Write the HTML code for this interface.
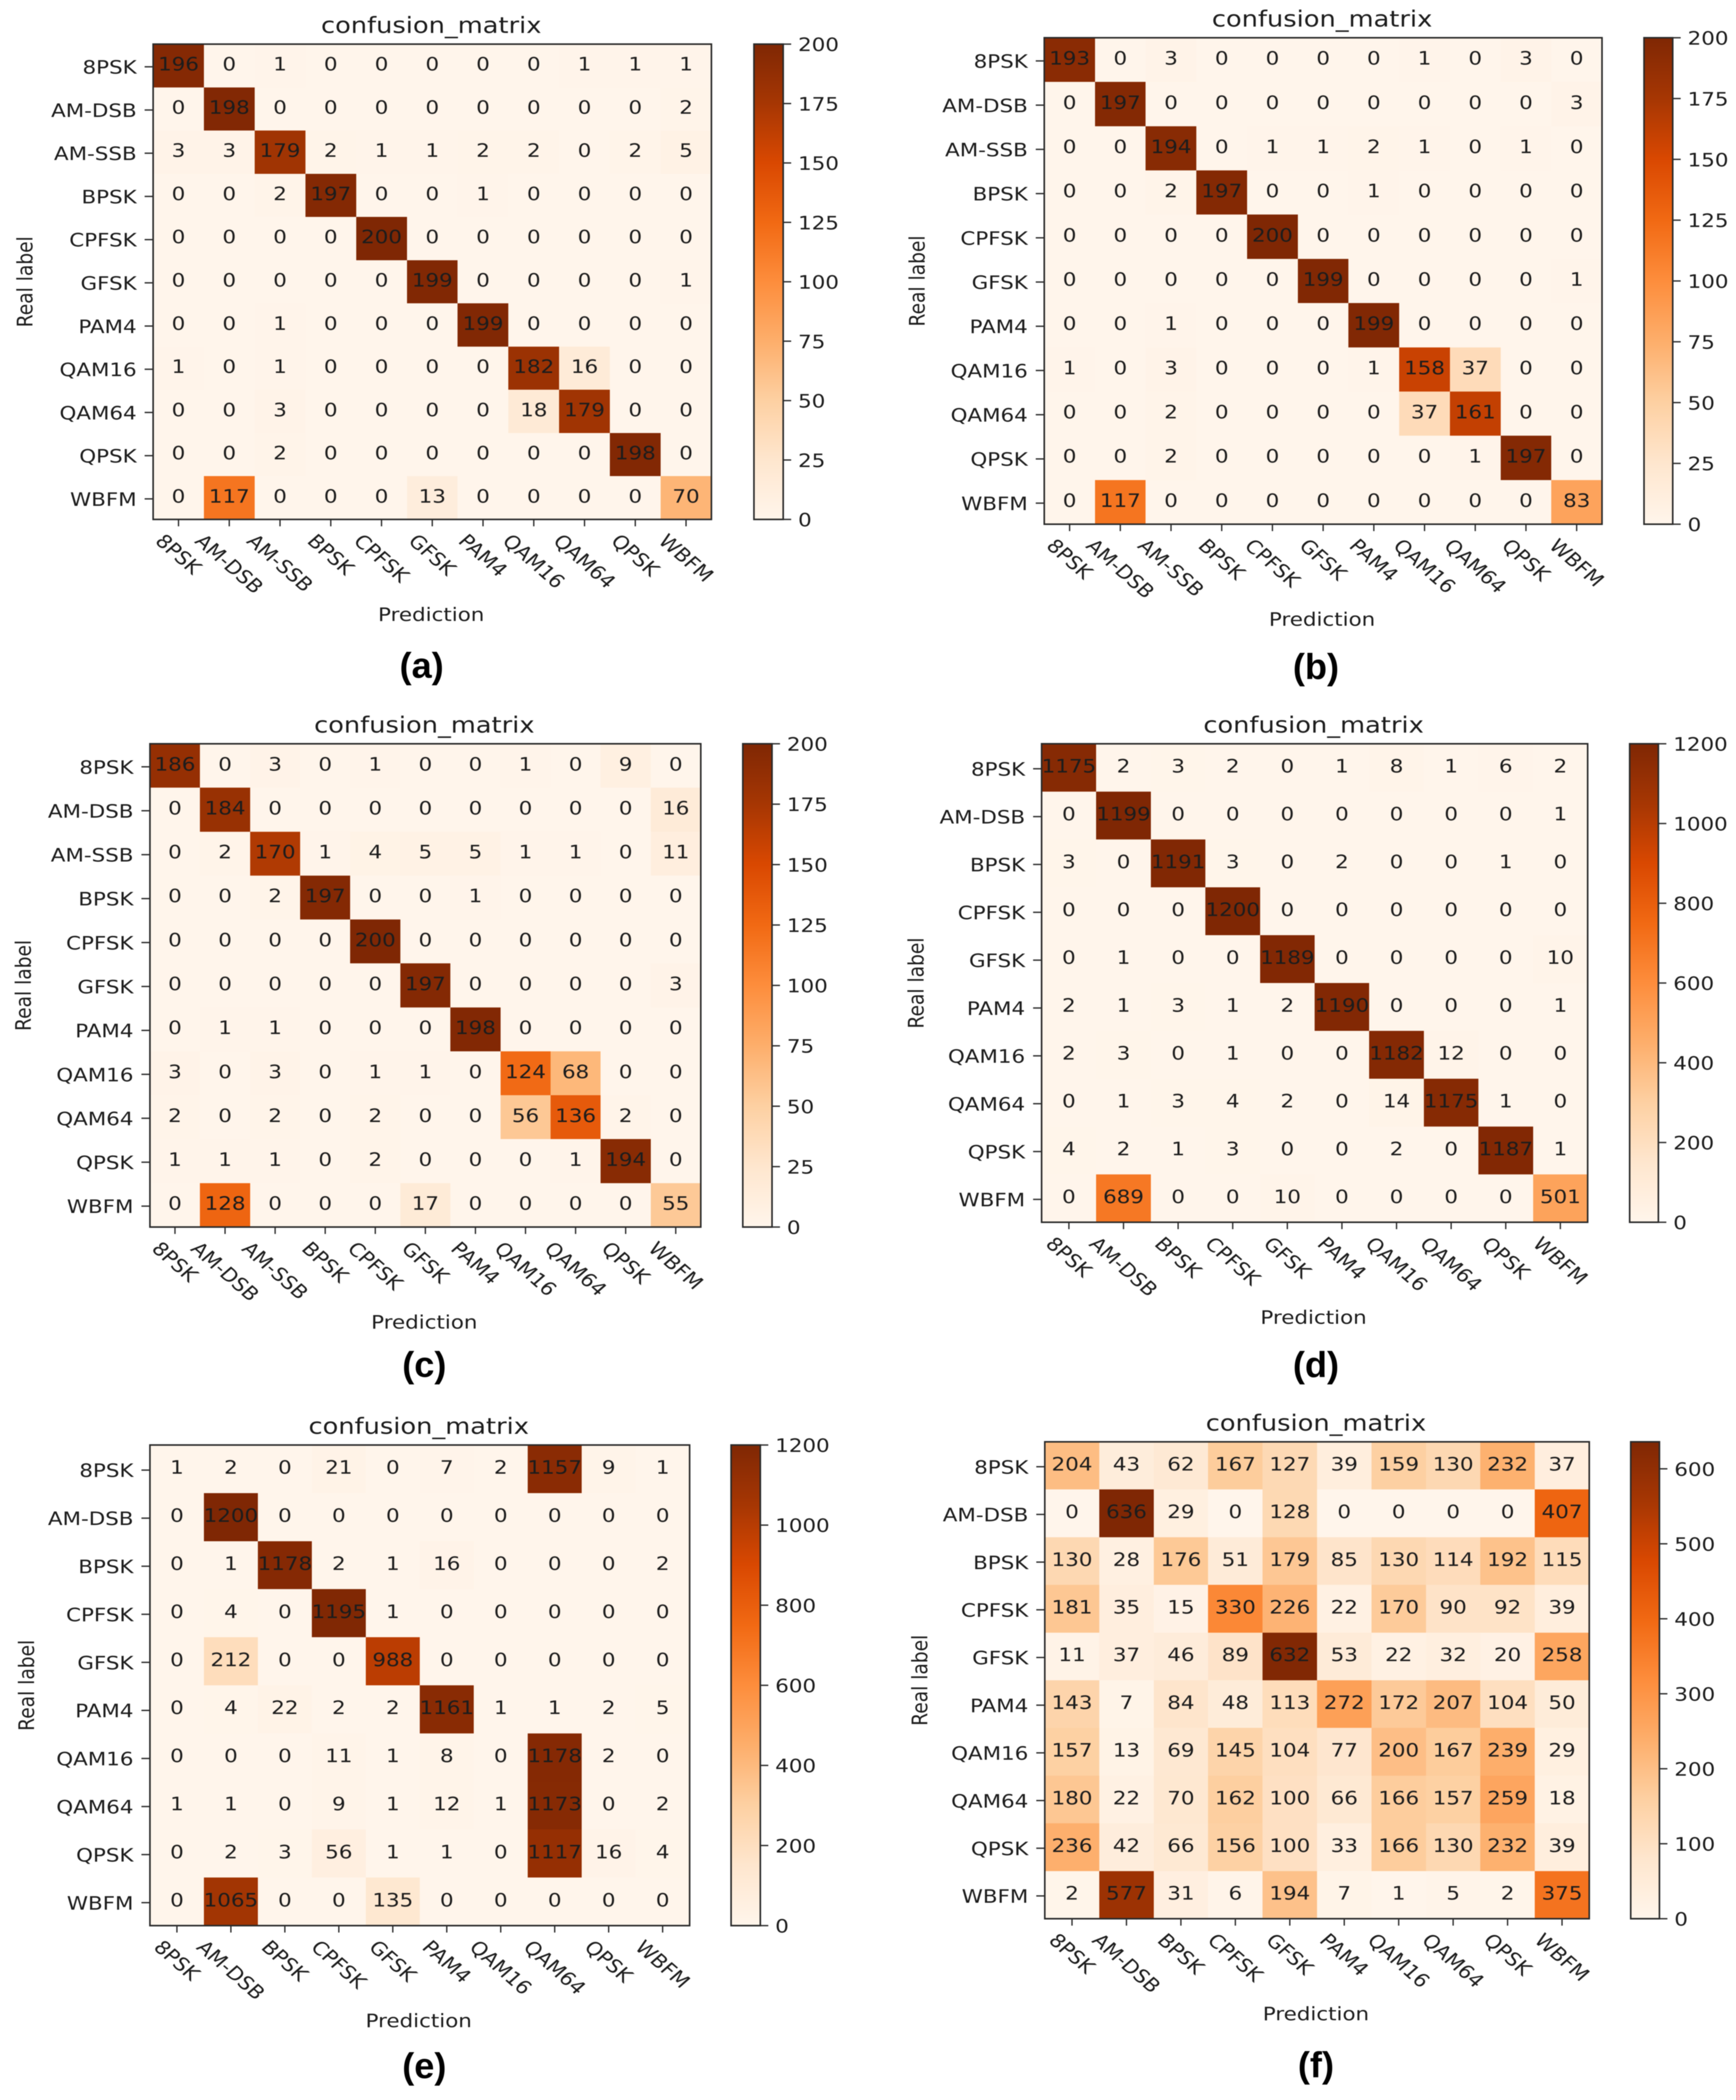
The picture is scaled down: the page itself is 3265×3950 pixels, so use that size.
<!DOCTYPE html>
<html lang="en">
<head>
<meta charset="utf-8">
<title>Confusion matrices</title>
<style>
html,body{margin:0;padding:0;background:#fff}
svg{display:block;filter:blur(.7px)}
text{font-family:"DejaVu Sans","Liberation Sans",sans-serif;fill:#1c1c1c}
.cap{font-family:"Liberation Sans",sans-serif;font-weight:700;fill:#000}
</style>
</head>
<body>
<svg id="figure" xmlns="http://www.w3.org/2000/svg" width="3265" height="3950" viewBox="0 0 3265 3950">
<defs>
<linearGradient id="oranges-gradient" x1="0" y1="1" x2="0" y2="0">
<stop offset="0" stop-color="#fff5eb"/><stop offset=".125" stop-color="#fee6ce"/><stop offset=".25" stop-color="#fdd0a2"/><stop offset=".375" stop-color="#fdae6b"/><stop offset=".5" stop-color="#fd8d3c"/><stop offset=".625" stop-color="#f16913"/><stop offset=".75" stop-color="#d94801"/><stop offset=".875" stop-color="#a63603"/><stop offset="1" stop-color="#7f2704"/>
</linearGradient>
</defs>
<rect width="3265" height="3950" fill="#fff"/>
</svg>
<script>
const categories11 = ["8PSK","AM-DSB","AM-SSB","BPSK","CPFSK","GFSK","PAM4","QAM16","QAM64","QPSK","WBFM"];
const categories10 = ["8PSK","AM-DSB","BPSK","CPFSK","GFSK","PAM4","QAM16","QAM64","QPSK","WBFM"];

const matrixA = [
[196,0,1,0,0,0,0,0,1,1,1],
[0,198,0,0,0,0,0,0,0,0,2],
[3,3,179,2,1,1,2,2,0,2,5],
[0,0,2,197,0,0,1,0,0,0,0],
[0,0,0,0,200,0,0,0,0,0,0],
[0,0,0,0,0,199,0,0,0,0,1],
[0,0,1,0,0,0,199,0,0,0,0],
[1,0,1,0,0,0,0,182,16,0,0],
[0,0,3,0,0,0,0,18,179,0,0],
[0,0,2,0,0,0,0,0,0,198,0],
[0,117,0,0,0,13,0,0,0,0,70]];
const matrixB = [
[193,0,3,0,0,0,0,1,0,3,0],
[0,197,0,0,0,0,0,0,0,0,3],
[0,0,194,0,1,1,2,1,0,1,0],
[0,0,2,197,0,0,1,0,0,0,0],
[0,0,0,0,200,0,0,0,0,0,0],
[0,0,0,0,0,199,0,0,0,0,1],
[0,0,1,0,0,0,199,0,0,0,0],
[1,0,3,0,0,0,1,158,37,0,0],
[0,0,2,0,0,0,0,37,161,0,0],
[0,0,2,0,0,0,0,0,1,197,0],
[0,117,0,0,0,0,0,0,0,0,83]];
const matrixC = [
[186,0,3,0,1,0,0,1,0,9,0],
[0,184,0,0,0,0,0,0,0,0,16],
[0,2,170,1,4,5,5,1,1,0,11],
[0,0,2,197,0,0,1,0,0,0,0],
[0,0,0,0,200,0,0,0,0,0,0],
[0,0,0,0,0,197,0,0,0,0,3],
[0,1,1,0,0,0,198,0,0,0,0],
[3,0,3,0,1,1,0,124,68,0,0],
[2,0,2,0,2,0,0,56,136,2,0],
[1,1,1,0,2,0,0,0,1,194,0],
[0,128,0,0,0,17,0,0,0,0,55]];
const matrixD = [
[1175,2,3,2,0,1,8,1,6,2],
[0,1199,0,0,0,0,0,0,0,1],
[3,0,1191,3,0,2,0,0,1,0],
[0,0,0,1200,0,0,0,0,0,0],
[0,1,0,0,1189,0,0,0,0,10],
[2,1,3,1,2,1190,0,0,0,1],
[2,3,0,1,0,0,1182,12,0,0],
[0,1,3,4,2,0,14,1175,1,0],
[4,2,1,3,0,0,2,0,1187,1],
[0,689,0,0,10,0,0,0,0,501]];
const matrixE = [
[1,2,0,21,0,7,2,1157,9,1],
[0,1200,0,0,0,0,0,0,0,0],
[0,1,1178,2,1,16,0,0,0,2],
[0,4,0,1195,1,0,0,0,0,0],
[0,212,0,0,988,0,0,0,0,0],
[0,4,22,2,2,1161,1,1,2,5],
[0,0,0,11,1,8,0,1178,2,0],
[1,1,0,9,1,12,1,1173,0,2],
[0,2,3,56,1,1,0,1117,16,4],
[0,1065,0,0,135,0,0,0,0,0]];
const matrixF = [
[204,43,62,167,127,39,159,130,232,37],
[0,636,29,0,128,0,0,0,0,407],
[130,28,176,51,179,85,130,114,192,115],
[181,35,15,330,226,22,170,90,92,39],
[11,37,46,89,632,53,22,32,20,258],
[143,7,84,48,113,272,172,207,104,50],
[157,13,69,145,104,77,200,167,239,29],
[180,22,70,162,100,66,166,157,259,18],
[236,42,66,156,100,33,166,130,232,39],
[2,577,31,6,194,7,1,5,2,375]];

const colorbarTicks200 = [0,25,50,75,100,125,150,175,200];
const colorbarTicks1200 = [0,200,400,600,800,1000,1200];
const colorbarTicks600 = [0,100,200,300,400,500,600];

const chartTitle = "confusion_matrix";
const xAxisTitle = "Prediction";
const yAxisTitle = "Real label";

const panelA = {id:"a",matrix:matrixA,labels:categories11,ticks:colorbarTicks200,vmax:200};
const panelB = {id:"b",matrix:matrixB,labels:categories11,ticks:colorbarTicks200,vmax:200};
const panelC = {id:"c",matrix:matrixC,labels:categories11,ticks:colorbarTicks200,vmax:200};
const panelD = {id:"d",matrix:matrixD,labels:categories10,ticks:colorbarTicks1200,vmax:1200};
const panelE = {id:"e",matrix:matrixE,labels:categories10,ticks:colorbarTicks1200,vmax:1200};
const panelF = {id:"f",matrix:matrixF,labels:categories10,ticks:colorbarTicks600,vmax:636};

const frameA = {L:288,R:1338,T:83,B:977,cL:1418,cR:1473,yt:47,capX:793,capY:1275};
const frameB = {L:1964,R:3013,T:71,B:986,cL:3092,cR:3146,yt:1725,capX:2475,capY:1277};
const frameC = {L:282,R:1318,T:1399,B:2308,cL:1397,cR:1452,yt:44,capX:798,capY:2590};
const frameD = {L:1959,R:2986,T:1399,B:2299,cL:3065,cR:3119,yt:1723,capX:2475,capY:2590};
const frameE = {L:282,R:1297,T:2718,B:3622,cL:1375,cR:1430,yt:50,capX:798,capY:3909};
const frameF = {L:1965,R:2989,T:2712,B:3609,cL:3067,cR:3121,yt:1730,capX:2475,capY:3907};

const SVGNS = "http://www.w3.org/2000/svg";
const FONT = 35, SX = 1.15, INK = "#2a2a2a";
const orangesStops = ["#fff5eb","#fee6ce","#fdd0a2","#fdae6b","#fd8d3c","#f16913","#d94801","#a63603","#7f2704"];

function hexToRgb(h){return [1,3,5].map(i=>parseInt(h.substr(i,2),16));}
function oranges(t){
  const p = Math.max(0,Math.min(1,t))*(orangesStops.length-1);
  const i = Math.min(Math.floor(p),orangesStops.length-2);
  const a = hexToRgb(orangesStops[i]), b = hexToRgb(orangesStops[i+1]), f = p-i;
  return "rgb("+a.map((v,k)=>Math.round(v+(b[k]-v)*f)).join(",")+")";
}
function make(tag,parent,attrs){
  const el = document.createElementNS(SVGNS,tag);
  for(const k in attrs){el.setAttribute(k,attrs[k]);}
  parent.appendChild(el);
  return el;
}
function label(parent,str,x,y,size,extra,anchor,cls,sx){
  const el = make("text",parent,{
    transform:"translate("+x+" "+y+") scale("+(sx||SX)+" 1)"+(extra||""),
    "font-size":size,
    "text-anchor":anchor||"middle"
  });
  if(cls){el.setAttribute("class",cls);}
  el.textContent = str;
  return el;
}

function drawPanel(panel,frame){
  const root = document.getElementById("figure");
  const n = panel.labels.length;
  const cw = (frame.R-frame.L)/n, ch = (frame.B-frame.T)/n;
  const xCell = i => frame.L+i*cw;
  const yCell = i => frame.T+i*ch;
  const xMid = i => xCell(i)+cw/2;
  const yMid = i => yCell(i)+ch/2;
  const yBar = v => frame.B-v/panel.vmax*(frame.B-frame.T);
  const cx = (frame.L+frame.R)/2, cy = (frame.T+frame.B)/2;

  const g = make("g",root,{});
  
  

  const title = label(g,chartTitle,cx-2,frame.T-21,42);
  
  

  panel.matrix.forEach((row,r)=>{
    row.forEach((v,c)=>{
      const cell = make("rect",g,{x:xCell(c),y:yCell(r),width:cw+.5,height:ch+.5,fill:oranges(v/panel.vmax),"shape-rendering":"crispEdges"});
      
      
    });
  });
  panel.matrix.forEach((row,r)=>{
    row.forEach((v,c)=>{
      const num = label(g,String(v),xMid(c),yMid(r)+9,FONT);
      
      
    });
  });

  const frameRect = make("rect",g,{x:frame.L,y:frame.T,width:frame.R-frame.L,height:frame.B-frame.T,fill:"none",stroke:INK,"stroke-width":3});
  
  

  panel.labels.forEach((name,i)=>{
    const ty = make("line",g,{x1:frame.L-16,x2:frame.L,y1:yMid(i)+2,y2:yMid(i)+2,stroke:INK,"stroke-width":2.5});
    
    
    const yl = label(g,name,frame.L-31,yMid(i)+15,FONT,"","end");
    
    

    const tx = make("line",g,{x1:xMid(i),x2:xMid(i),y1:frame.B,y2:frame.B+13,stroke:INK,"stroke-width":2.5});
    
    
    const xl = label(g,name,xMid(i),frame.B+28,FONT," rotate(45)");
    xl.setAttribute("dominant-baseline","central");
    
    
    const len = xl.getComputedTextLength();
    const yc = frame.B+26+(len+23)*0.707/2;
    xl.setAttribute("transform","translate("+xMid(i)+" "+yc+") scale("+SX+" 1) rotate(45)");
  });

  const xt = label(g,xAxisTitle,cx-2,frame.B+191,FONT);
  
  

  const yt = make("text",g,{transform:"translate("+frame.yt+" "+cy+") scale("+SX+" 1) rotate(-90)","font-size":FONT,"text-anchor":"middle","dominant-baseline":"central"});
  yt.textContent = yAxisTitle;
  
  

  const bar = make("rect",g,{x:frame.cL,y:frame.T,width:frame.cR-frame.cL,height:frame.B-frame.T,fill:"url(#oranges-gradient)",stroke:INK,"stroke-width":3});
  
  

  panel.ticks.forEach(v=>{
    const t = make("line",g,{x1:frame.cR,x2:frame.cR+15,y1:yBar(v),y2:yBar(v),stroke:INK,"stroke-width":2.5});
    
    
    const tl = label(g,String(v),frame.cR+28,yBar(v)+13,FONT,"","start");
    
    
  });

  const cap = label(g,"("+panel.id+")",frame.capX,frame.capY,68,"","middle","cap",1);
  
  
}

drawPanel(panelA,frameA);
drawPanel(panelB,frameB);
drawPanel(panelC,frameC);
drawPanel(panelD,frameD);
drawPanel(panelE,frameE);
drawPanel(panelF,frameF);
</script>
</body>
</html>
